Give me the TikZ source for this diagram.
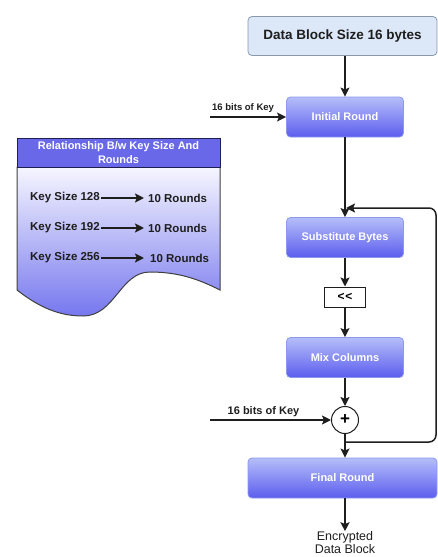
\documentclass[tikz,border=0pt]{standalone}
\usepackage{fontspec}
\setmainfont{Liberation Sans}
\usetikzlibrary{arrows.meta,calc}
\definecolor{boxtop}{HTML}{B5BEF9}
\definecolor{boxbot}{HTML}{5C5DEE}
\definecolor{boxedge}{HTML}{8C98EE}
\definecolor{datafill}{HTML}{DCE8F8}
\definecolor{dataedge}{HTML}{8A98AC}
\definecolor{hdrfill}{HTML}{6868E8}
\definecolor{hdredge}{HTML}{1E1E50}
\definecolor{doctop}{HTML}{F6F6FF}
\definecolor{docbot}{HTML}{7677EE}
\definecolor{ink}{HTML}{1E1E1E}
\begin{document}
\begin{tikzpicture}[x=1pt,y=-1pt,
  arr/.style={line width=1.5pt,draw=ink,-{Stealth[length=9pt,width=9pt,inset=1.8pt]}},
  bluebox/.style={rounded corners=4pt,draw=boxedge,line width=0.8pt,top color=boxtop,bottom color=boxbot,
    text=white,font=\bfseries\fontsize{11}{13}\selectfont,minimum width=117pt,minimum height=40pt,inner sep=0pt},
  databox/.style={rounded corners=4pt,draw=dataedge,line width=0.8pt,fill=datafill,text=ink,
    font=\bfseries\fontsize{13.5}{16}\selectfont,minimum width=189pt,minimum height=39pt,inner sep=0pt},
  shiftbox/.style={draw=ink,line width=1pt,fill=white,minimum width=41pt,minimum height=20pt,inner sep=0pt,
    font=\bfseries\fontsize{12}{14}\selectfont},
  keylab/.style={text=ink,font=\bfseries\fontsize{11.5}{13}\selectfont,inner sep=0pt},
  smalllab/.style={text=ink,inner sep=0pt},
]
\useasboundingbox (0,0) rectangle (438,557);

% ---------- left document shape ----------
\path[draw=ink!85,line width=1pt,top color=doctop,bottom color=docbot]
  (17,167) -- (17,290)
  .. controls (40,308) and (60,316) .. (83,316)
  .. controls (115,316) and (120,272) .. (150,272)
  .. controls (180,272) and (200,280) .. (220,290)
  -- (220,167) -- cycle;
\node[draw=hdredge,line width=1pt,fill=hdrfill,minimum width=203pt,minimum height=29pt,inner sep=0pt,
  text=white,align=center,font=\bfseries\fontsize{11}{13.5}\selectfont] (hdr) at (118.5,152.5)
  {Relationship B/w Key Size And\\Rounds};

\node[keylab,anchor=east] (k128) at (100,198) {Key Size 128};
\node[keylab,anchor=west] (r128) at (148,198) {10 Rounds};
\node[keylab,anchor=east] (k192) at (100,228) {Key Size 192};
\node[keylab,anchor=west] (r192) at (148,228) {10 Rounds};
\node[keylab,anchor=east] (k256) at (100,258) {Key Size 256};
\node[keylab,anchor=west] (r256) at (150,258) {10 Rounds};
\draw[arr,line width=1.7pt,shorten <=1pt,shorten >=4pt] (k128.east) -- (r128.west);
\draw[arr,line width=1.7pt,shorten <=1pt,shorten >=4pt] (k192.east) -- (r192.west);
\draw[arr,line width=1.7pt,shorten <=1pt,shorten >=6pt] (k256.east) -- (r256.west);

% ---------- main flow ----------
\node[databox] (data) at (342.5,36) {Data Block Size 16 bytes};
\node[bluebox] (init) at (345,117) {Initial Round};
\node[bluebox] (sub) at (345,237.5) {Substitute Bytes};
\node[shiftbox] (shift) at (345,297) {\textless\kern0.6pt\textless};
\node[bluebox] (mix) at (345,357.5) {Mix Columns};
\node[circle,draw=ink,line width=1pt,fill=white,minimum size=27pt,inner sep=0pt,
  font=\bfseries\fontsize{17}{17}\selectfont] (plus) at (345,420) {+};
\node[bluebox,minimum width=189pt] (final) at (342.5,478) {Final Round};
\node[smalllab,align=center,font=\fontsize{12.5}{13}\selectfont] (out) at (345,542.5) {Encrypted\\Data Block};

\draw[arr] (data.south -| init.north) -- (init.north);
\draw[arr] (init.south) -- (sub.north);
\draw[arr] (sub.south) -- (shift.north);
\draw[arr] (shift.south) -- (mix.north);
\draw[arr] (mix.south) -- (plus.north);
\draw[arr] (plus.south) -- (final.north -| plus.south);
\draw[arr] (final.south -| out.north) -- (out.north);

% key inputs
\coordinate (k1) at (210,117);
\node[smalllab,font=\bfseries\fontsize{9.5}{11}\selectfont,anchor=south west] (k1lab) at (212,113) {16 bits of Key};
\draw[arr] (k1) -- (init.west);
\coordinate (k2) at (210,420);
\node[smalllab,font=\bfseries\fontsize{11}{13}\selectfont] (k2lab) at (263.5,412) {16 bits of Key};
\draw[arr] (k2) -- (plus.west);

% loop back
\coordinate (split) at (345,442);
\coordinate (loopin) at (346,208);
\draw[arr,rounded corners=7pt] (split) -- (436,442) -- (436,208) -- (loopin);
\end{tikzpicture}
\end{document}
